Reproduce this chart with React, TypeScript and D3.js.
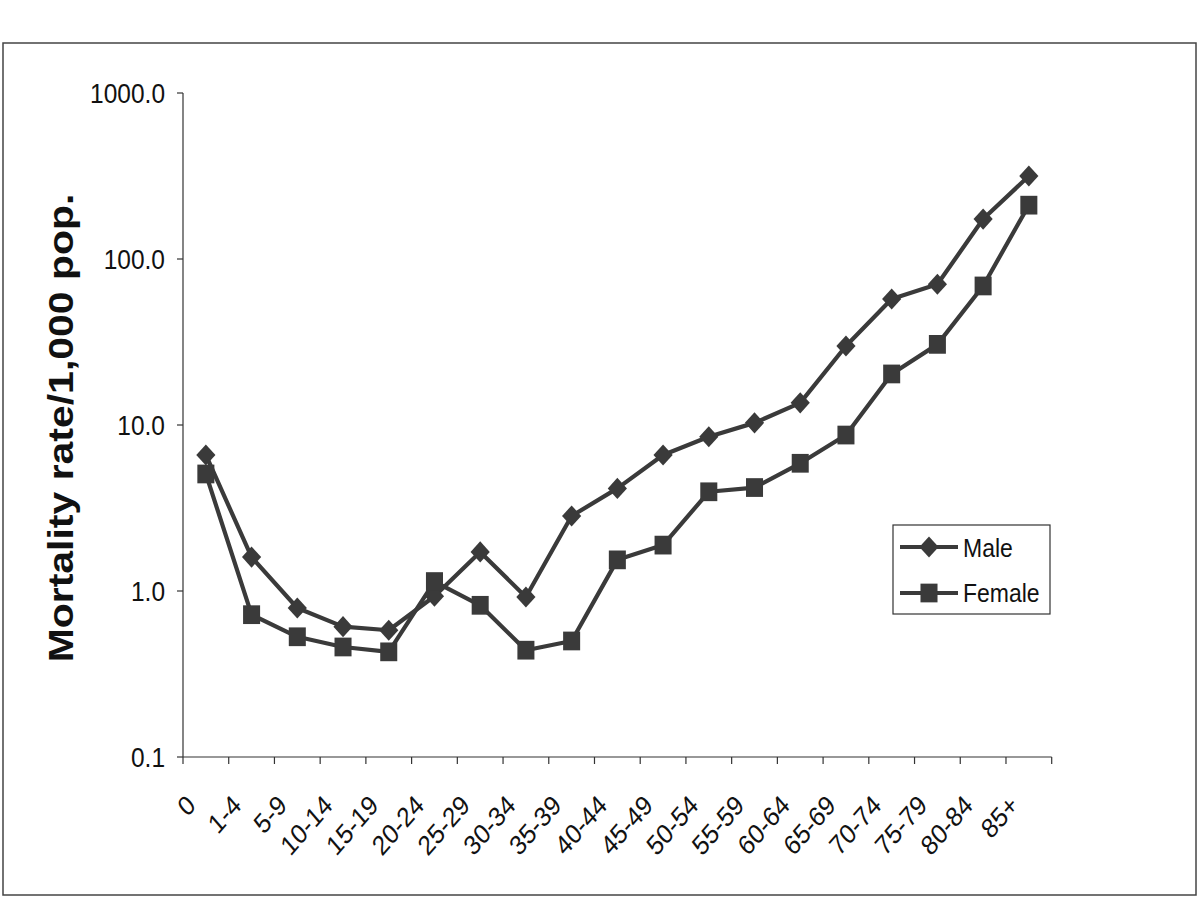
import React from 'react';
import * as d3 from 'd3';

const ageGroups = ['0', '1-4', '5-9', '10-14', '15-19', '20-24', '25-29', '30-34', '35-39', '40-44',
  '45-49', '50-54', '55-59', '60-64', '65-69', '70-74', '75-79', '80-84', '85+'];
const maleRates = [6.6, 1.6, 0.79, 0.61, 0.58, 0.93, 1.72, 0.92, 2.83, 4.15,
  6.6, 8.5, 10.3, 13.6, 29.9, 57.4, 70.4, 174, 316];
const femaleRates = [5.07, 0.72, 0.53, 0.46, 0.43, 1.14, 0.82, 0.44, 0.5, 1.54,
  1.89, 3.96, 4.2, 5.88, 8.7, 20.3, 30.6, 68.8, 211];
const yTicks = [0.1, 1, 10, 100, 1000];

const INK = '#3a3a3a';
const FONT = 'Liberation Sans, Arial, sans-serif';
const SY = 1.15; // the original image is stretched vertically a little

export default function App() {
  const margin = { left: 183, right: 1051.7, top: 93, bottom: 757 };
  const x = d3.scaleBand<string>().domain(ageGroups).range([margin.left, margin.right]);
  const y = d3.scaleLog().domain([0.1, 1000]).range([margin.bottom, margin.top]);
  const cx = (d: string) => (x(d) ?? 0) + x.bandwidth() / 2;

  const line = d3.line<number>()
    .x((_, i) => cx(ageGroups[i]))
    .y((v) => y(v));

  const diamond = d3.symbol().type(d3.symbolDiamond2).size(235)();
  const square = d3.symbol().type(d3.symbolSquare).size(290)();
  const mark = (px: number, py: number) => `translate(${px},${py}) scale(1,1.1)`;

  const boundaries = ageGroups.map((d) => x(d) ?? 0).concat([margin.right]);

  return (
    <div style={{ position: 'absolute', left: 0, top: 0 }}>
      <svg width={1200} height={900} style={{ display: 'block', background: '#fff' }}>
        <rect x={3} y={43} width={1193} height={852} fill="none" stroke="#444" strokeWidth={1.5} />

        {/* y axis */}
        <line x1={margin.left} x2={margin.left} y1={margin.top} y2={margin.bottom} stroke="#333" strokeWidth={1.2} />
        {yTicks.map((t) => (
          <g key={t}>
            <line x1={margin.left - 6} x2={margin.left} y1={y(t)} y2={y(t)} stroke="#333" strokeWidth={1.2} />
            <text transform={`translate(165,${y(t)}) scale(1,${SY})`} dy="0.36em" textAnchor="end"
              fontFamily={FONT} fontSize={24.5} fill="#111">{t.toFixed(1)}</text>
          </g>
        ))}
        <text transform={`translate(73,428) rotate(-90) scale(1.17,1)`} textAnchor="middle"
          fontFamily={FONT} fontWeight="bold" fontSize={35} fill="#111">Mortality rate/1,000 pop.</text>

        {/* x axis */}
        <line x1={margin.left} x2={margin.right} y1={margin.bottom} y2={margin.bottom} stroke="#333" strokeWidth={1.2} />
        {boundaries.map((b, i) => (
          <line key={i} x1={b} x2={b} y1={margin.bottom} y2={margin.bottom + 7} stroke="#333" strokeWidth={1.2} />
        ))}
        {ageGroups.map((g) => (
          <text key={g} transform={`translate(${cx(g) - 9},807) scale(1,${SY}) rotate(-45)`} textAnchor="end"
            fontFamily={FONT} fontSize={24} fill="#111">{g}</text>
        ))}

        {/* series */}
        <path d={line(maleRates) ?? ''} fill="none" stroke={INK} strokeWidth={4.2} strokeLinejoin="round" />
        <path d={line(femaleRates) ?? ''} fill="none" stroke={INK} strokeWidth={4.2} strokeLinejoin="round" />
        {maleRates.map((v, i) => (
          <path key={'m' + i} d={diamond ?? ''} transform={mark(cx(ageGroups[i]), y(v))} fill={INK} />
        ))}
        {femaleRates.map((v, i) => (
          <path key={'f' + i} d={square ?? ''} transform={mark(cx(ageGroups[i]), y(v))} fill={INK} />
        ))}

        {/* legend */}
        <rect x={893} y={525} width={157} height={89} fill="#fff" stroke="#333" strokeWidth={1.2} />
        <line x1={900} x2={958} y1={547} y2={547} stroke={INK} strokeWidth={4.2} />
        <path d={diamond ?? ''} transform={mark(929, 547)} fill={INK} />
        <text transform={`translate(963,557) scale(1,${SY})`} fontFamily={FONT} fontSize={23} fill="#111">Male</text>
        <line x1={900} x2={958} y1={593} y2={593} stroke={INK} strokeWidth={4.2} />
        <path d={square ?? ''} transform={mark(929, 593)} fill={INK} />
        <text transform={`translate(963,602) scale(1,${SY})`} fontFamily={FONT} fontSize={23} fill="#111">Female</text>
      </svg>
    </div>
  );
}
